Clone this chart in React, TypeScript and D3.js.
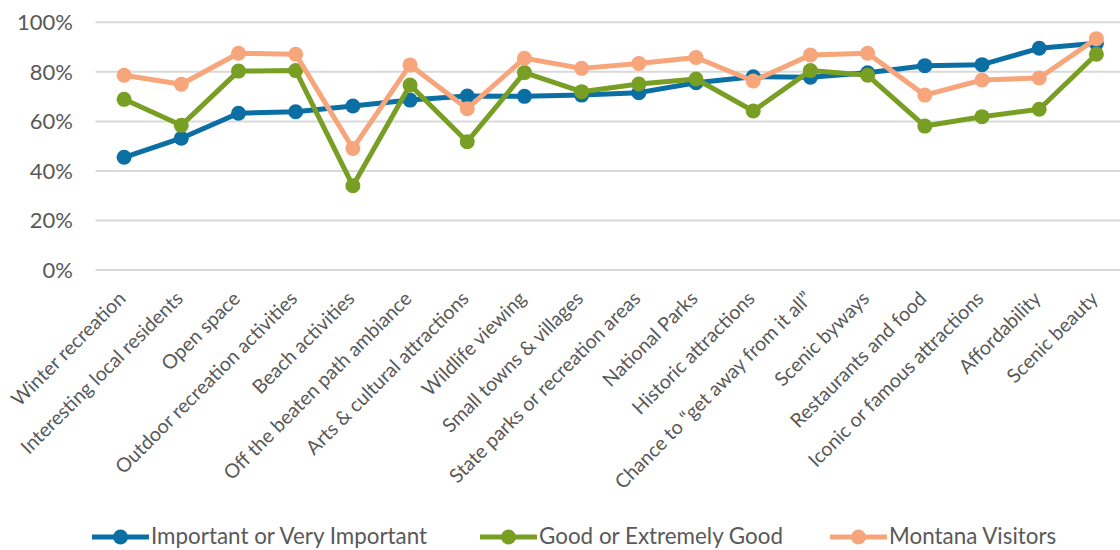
import React from "react";
import * as d3 from "d3";

const categories = [
  "Winter recreation",
  "Interesting local residents",
  "Open space",
  "Outdoor recreation activities",
  "Beach activities",
  "Off the beaten path ambiance",
  "Arts & cultural attractions",
  "Wildlife viewing",
  "Small towns & villages",
  "State parks or recreation areas",
  "National Parks",
  "Historic attractions",
  "Chance to \u201cget away from it all\u201d",
  "Scenic byways",
  "Restaurants and food",
  "Iconic or famous attractions",
  "Affordability",
  "Scenic beauty",
];

const important = [45.5, 53.2, 63.3, 63.9, 66.2, 68.6, 70.2, 70.1, 70.6, 71.6, 75.6, 78.0, 77.8, 79.6, 82.5, 82.9, 89.5, 91.5];
const good = [68.9, 58.4, 80.3, 80.5, 34.0, 74.7, 51.8, 79.7, 72.0, 75.1, 77.1, 64.2, 80.5, 78.6, 58.1, 61.9, 64.9, 87.1];
const visitors = [78.6, 75.0, 87.5, 87.1, 49.1, 82.8, 65.1, 85.5, 81.4, 83.4, 85.8, 76.3, 86.8, 87.5, 70.6, 76.7, 77.5, 93.4];

const yTicks = [0, 20, 40, 60, 80, 100];

const seriesNames = ["Important or Very Important", "Good or Extremely Good", "Montana Visitors"];
const seriesColors = ["#0b6fa4", "#789f24", "#f7a57b"];

const W = 1120;
const H = 550;
const FONT = "Lato, 'Open Sans', sans-serif";
const TEXT = "#595959";

export default function App() {
  const x = d3.scaleBand<string>().domain(categories).range([95.5, 1125]);
  const y = d3.scaleLinear().domain([0, 100]).range([270, 22.3]);
  const cx = (c: string) => (x(c) ?? 0) + x.bandwidth() / 2;

  const series = [important, good, visitors];
  const line = d3
    .line<number>()
    .x((_, i) => cx(categories[i]))
    .y((d) => y(d));

  const legendX = [92, 480, 830];

  return (
    <svg
      width={W}
      height={H}
      style={{ position: "absolute", left: 0, top: 0, background: "#fff" }}
      fontFamily={FONT}
    >
      {/* horizontal gridlines and y tick labels */}
      {yTicks.map((t) => (
        <g key={t}>
          <line x1={x.range()[0]} x2={x.range()[1]} y1={y(t)} y2={y(t)} stroke="#d9d9d9" strokeWidth={2} />
          <text x={73} y={y(t)} dy="0.35em" textAnchor="end" fontSize={22} fill={TEXT}>
            {t}%
          </text>
        </g>
      ))}

      {/* category labels, rotated */}
      {categories.map((c) => (
        <text
          key={c}
          transform={`translate(${cx(c) - 2},${295}) rotate(-45)`}
          textAnchor="end"
          dy="0.35em"
          fontSize={19.6}
          fill={TEXT}
        >
          {c}
        </text>
      ))}

      {/* series lines with markers */}
      {series.map((vals, si) => (
        <g key={si}>
          <path d={line(vals) ?? ""} fill="none" stroke={seriesColors[si]} strokeWidth={5} strokeLinejoin="round" />
          {vals.map((v, i) => (
            <circle key={i} cx={cx(categories[i])} cy={y(v)} r={7.5} fill={seriesColors[si]} />
          ))}
        </g>
      ))}

      {/* legend */}
      {seriesNames.map((n, i) => (
        <g key={n} transform={`translate(${legendX[i]},537)`}>
          <line x1={0} x2={57} y1={0} y2={0} stroke={seriesColors[i]} strokeWidth={5} />
          <circle cx={28.5} cy={0} r={7.5} fill={seriesColors[i]} />
          <text x={59} y={0} dy="0.33em" fontSize={22.4} fill={TEXT}>
            {n}
          </text>
        </g>
      ))}
    </svg>
  );
}
